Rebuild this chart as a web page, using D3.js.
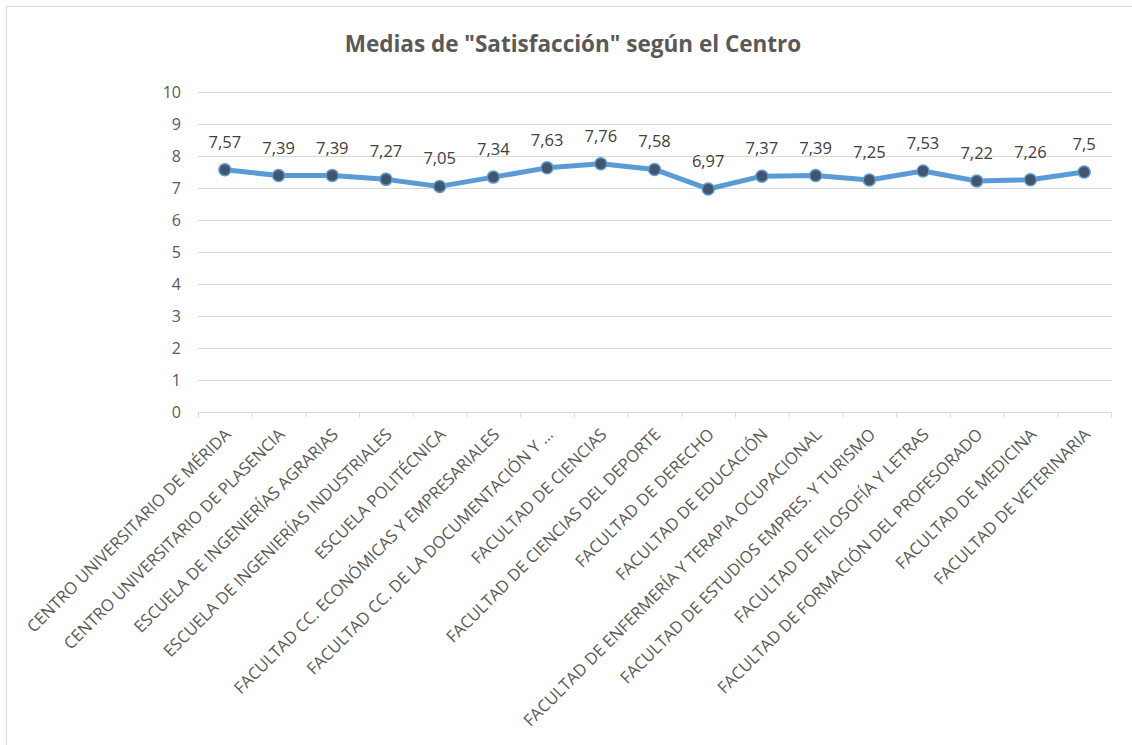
<!DOCTYPE html>
<html><head><meta charset="utf-8">
<script src="https://cdn.jsdelivr.net/npm/d3@7"></script>
<style>body{margin:0;background:#fff}svg{display:block}</style>
</head><body>
<svg id="c" width="1132" height="745"></svg>
<script>
const categories = [
  "CENTRO UNIVERSITARIO DE MÉRIDA",
  "CENTRO UNIVERSITARIO DE PLASENCIA",
  "ESCUELA DE INGENIERÍAS AGRARIAS",
  "ESCUELA DE INGENIERÍAS INDUSTRIALES",
  "ESCUELA POLITÉCNICA",
  "FACULTAD CC. ECONÓMICAS Y EMPRESARIALES",
  "FACULTAD CC. DE LA DOCUMENTACIÓN Y …",
  "FACULTAD DE CIENCIAS",
  "FACULTAD DE CIENCIAS DEL DEPORTE",
  "FACULTAD DE DERECHO",
  "FACULTAD DE EDUCACIÓN",
  "FACULTAD DE ENFERMERÍA Y TERAPIA OCUPACIONAL",
  "FACULTAD DE ESTUDIOS EMPRES. Y TURISMO",
  "FACULTAD DE FILOSOFÍA Y LETRAS",
  "FACULTAD DE FORMACIÓN DEL PROFESORADO",
  "FACULTAD DE MEDICINA",
  "FACULTAD DE VETERINARIA"
];
const values = [7.57,7.39,7.39,7.27,7.05,7.34,7.63,7.76,7.58,6.97,7.37,7.39,7.25,7.53,7.22,7.26,7.5];
const yTicks = [0,1,2,3,4,5,6,7,8,9,10];
const title = 'Medias de "Satisfacción" según el Centro';

const svg = d3.select("#c");
const font = "'Open Sans', 'Segoe UI', sans-serif";
const pL = 198, pR = 1111, pT = 92, pB = 412;

// outer chart border
svg.append("rect").attr("x",6.5).attr("y",6.5).attr("width",1140).attr("height",760)
  .attr("fill","none").attr("stroke","#d9d9d9").attr("stroke-width",1);

const x = d3.scaleBand().domain(categories).range([pL,pR]).padding(0);
const y = d3.scaleLinear().domain([0,10]).range([pB,pT]);

// gridlines
svg.append("g").selectAll("line").data(yTicks.filter(d=>d>0)).join("line")
  .attr("x1",pL).attr("x2",pR)
  .attr("y1",d=>y(d)+0.5).attr("y2",d=>y(d)+0.5)
  .attr("stroke","#d9d9d9").attr("stroke-width",1);

// y axis labels
const yAxis = d3.axisLeft(y).tickValues(yTicks).tickSize(0).tickPadding(0).tickFormat(d3.format("d"));
const gy = svg.append("g").attr("transform",`translate(${pL-17},0)`).call(yAxis);
gy.select(".domain").remove();
gy.selectAll("text").attr("font-family",font).attr("font-size","16px").attr("fill","#595959");

// x axis
const gx = svg.append("g").attr("transform",`translate(0,${pB+0.5})`);
gx.append("line").attr("x1",pL).attr("x2",pR).attr("stroke","#d9d9d9").attr("stroke-width",1);
const bounds = categories.map(c=>x(c)).concat([pR]);
gx.selectAll("line.tk").data(bounds).join("line").attr("class","tk")
  .attr("x1",d=>d+0.5).attr("x2",d=>d+0.5).attr("y1",0).attr("y2",5)
  .attr("stroke","#d9d9d9").attr("stroke-width",1);
gx.selectAll("text").data(categories).join("text")
  .attr("transform",d=>`translate(${x(d)+x.bandwidth()/2+7},${23}) rotate(-45)`)
  .attr("text-anchor","end")
  .attr("font-family",font).attr("font-size","16.6px").attr("fill","#595959")
  .text(d=>d);

// line
const pts = categories.map((c,i)=>({c,v:values[i]}));
const line = d3.line().x(d=>x(d.c)+x.bandwidth()/2).y(d=>y(d.v));
svg.append("path").datum(pts).attr("d",line)
  .attr("fill","none").attr("stroke","#5B9BD5").attr("stroke-width",5)
  .attr("stroke-linejoin","round").attr("stroke-linecap","round");

svg.append("g").selectAll("circle").data(pts).join("circle")
  .attr("cx",d=>x(d.c)+x.bandwidth()/2).attr("cy",d=>y(d.v)).attr("r",6)
  .attr("fill","#44546A").attr("stroke","#5B9BD5").attr("stroke-width",1.5);

// data labels
const fmt = v => String(v).replace(".",",");
svg.append("g").selectAll("text").data(pts).join("text")
  .attr("x",d=>x(d.c)+x.bandwidth()/2).attr("y",d=>y(d.v)-22)
  .attr("text-anchor","middle")
  .attr("font-family",font).attr("font-size","16.5px").attr("fill","#404040")
  .text(d=>fmt(d.v));

// title
svg.append("text").attr("x",573).attr("y",52).attr("text-anchor","middle")
  .attr("font-family",font).attr("font-size","22.5px").attr("font-weight","bold")
  .attr("fill","#595959").text(title);
</script>
</body></html>
